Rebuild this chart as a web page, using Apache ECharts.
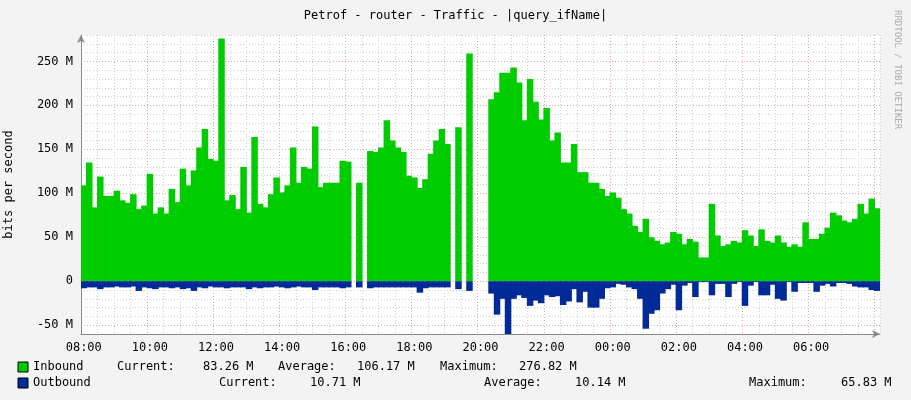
<!DOCTYPE html>
<html><head><meta charset="utf-8">
<script src="https://cdn.jsdelivr.net/npm/echarts@6/dist/echarts.min.js"></script>
<style>html,body{margin:0;padding:0;background:#f3f3f3}#c{width:911px;height:400px}</style>
</head><body><div id="c"></div>
<script>
// one sample every 10 minutes starting 08:00, values in Mbit/s
var inbound = [109,135,84,119,97,97,103,92,89,99,82,86,122,77,84,77,105,90,128,109,
  126,152,173,139,137,276,92,98,82,130,78,164,88,84,99,118,101,109,152,112,
  130,128,176,107,112,112,112,137,136,null,112,null,148,147,152,183,160,152,147,120,
  118,106,116,145,160,173,156,null,175,null,259,null,null,null,207,215,237,237,243,226,
  183,230,204,184,197,160,169,135,135,156,124,124,112,112,105,97,101,95,82,77,
  63,56,71,50,46,42,44,56,54,42,48,45,27,27,88,52,40,42,46,44,
  58,52,40,59,46,44,52,44,39,42,39,67,48,48,54,61,78,75,69,67,
  71,88,77,94,83];
var outbound = [-8,-7,-7,-9,-7,-7,-6,-7,-7,-6,-11,-7,-8,-9,-7,-7,-8,-7,-9,-8,
  -11,-7,-8,-6,-7,-7,-8,-7,-7,-7,-9,-7,-8,-7,-7,-6,-7,-8,-7,-6,
  -7,-7,-10,-7,-7,-7,-7,-8,-7,null,-7,null,-8,-7,-7,-7,-7,-7,-7,-7,
  -7,-13,-8,-7,-7,-7,-7,null,-9,null,-11,null,null,null,-14,-38,-20,-64,-20,-16,
  -19,-28,-22,-25,-16,-18,-17,-27,-23,-9,-24,-12,-30,-30,-20,-8,-7,-3,-4,-7,
  -9,-20,-54,-37,-33,-14,-9,-4,-33,-5,-2,-18,-1,-1,-16,-3,-3,-18,-3,-1,
  -28,-5,-1,-16,-16,-4,-20,-22,-1,-12,-2,-2,-2,-12,-5,-3,-6,-2,-2,-3,
  -6,-7,-7,-10,-11];
var times = inbound.map(function(v, i) {
    var m = (8 * 60 + i * 10) % 1440;
    return ('0' + Math.floor(m / 60)).slice(-2) + ':' + ('0' + m % 60).slice(-2);
});

var mono = 'DejaVu Sans Mono';
var chart = echarts.init(document.getElementById('c'));
function txt(x, y, s, extra) {
    var o = {type: 'text', left: x, top: y, style: {text: s, font: '12px ' + mono, fill: '#000'}};
    return Object.assign(o, extra || {});
}
function box(x, y, c) {
    return {type: 'rect', shape: {x: x, y: y, width: 10, height: 10}, style: {fill: c, stroke: '#000', lineWidth: 1}};
}
chart.setOption({
    backgroundColor: '#f3f3f3',
    animation: false,
    title: {text: 'Petrof - router - Traffic - |query_ifName|', left: 'center', top: 5,
        textStyle: {fontFamily: mono, fontSize: 12, fontWeight: 'normal', color: '#000'}},
    grid: {left: 81, right: 31, top: 35, height: 299, backgroundColor: '#fff', show: true, borderWidth: 0,
        containLabel: false, outerBoundsMode: 'none'},
    xAxis: {
        type: 'category', data: times,
        axisLine: {onZero: false, lineStyle: {color: '#888'}, symbol: ['none', 'arrow'], symbolSize: [6, 8]},
        axisTick: {show: false},
        axisLabel: {interval: 11, fontFamily: mono, fontSize: 12, color: '#000', margin: 8,
            formatter: function(v, i) { return i === 144 ? '' : v; }},
        splitLine: {show: true, interval: function(i) { return i % 3 === 0; },
            lineStyle: {type: [1, 2], color: ['#e8a0a0', '#d0d0d0', '#d0d0d0', '#d0d0d0']}}
    },
    yAxis: {
        type: 'value', min: -60, max: 280, interval: 10,
        name: 'bits per second', nameLocation: 'middle', nameGap: 66, nameRotate: 90,
        nameTextStyle: {fontFamily: mono, fontSize: 12, color: '#000'},
        axisLine: {show: true, lineStyle: {color: '#888'}, symbol: ['none', 'arrow'], symbolSize: [6, 8]},
        axisTick: {show: false},
        axisLabel: {fontFamily: mono, fontSize: 12, color: '#000', margin: 8,
            formatter: function(v) { return v % 50 === 0 ? (v === 0 ? '0' : v + ' M') : ''; }},
        splitLine: {lineStyle: {type: [1, 2], color: ['#d0d0d0', '#e8a0a0', '#d0d0d0', '#d0d0d0', '#d0d0d0']}}
    },
    series: [
        {name: 'Inbound', type: 'bar', data: inbound, barWidth: 6.5, barGap: '-100%',
            itemStyle: {color: '#00cc00'}},
        {name: 'Outbound', type: 'bar', data: outbound, barWidth: 6.5, barGap: '-100%',
            itemStyle: {color: '#002a97'}}
    ],
    graphic: [
        txt(893, 10, 'RRDTOOL / TOBI OETIKER', {rotation: -Math.PI / 2, style: {text: 'RRDTOOL / TOBI OETIKER', font: '9px ' + mono, fill: '#aaa'}}),
        box(18, 362, '#00cc00'), box(18, 378, '#002a97'),
        txt(33, 361, 'Inbound'), txt(117, 361, 'Current:'), txt(203, 361, '83.26 M'),
        txt(278, 361, 'Average:'), txt(357, 361, '106.17 M'), txt(440, 361, 'Maximum:'), txt(519, 361, '276.82 M'),
        txt(33, 377, 'Outbound'), txt(219, 377, 'Current:'), txt(310, 377, '10.71 M'),
        txt(484, 377, 'Average:'), txt(575, 377, '10.14 M'), txt(749, 377, 'Maximum:'), txt(841, 377, '65.83 M')
    ]
});
</script></body></html>
